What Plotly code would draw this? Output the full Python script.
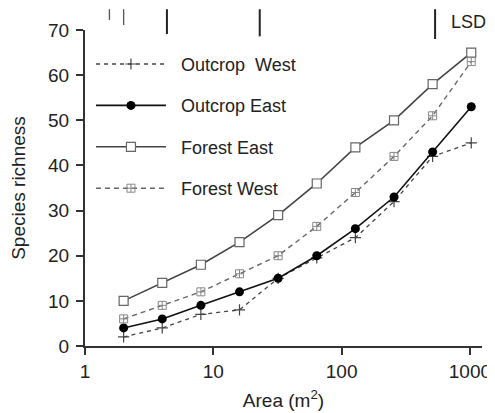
import plotly.graph_objects as go

area = [2, 4, 8, 16, 32, 64, 128, 256, 512, 1024]
outcrop_west = [2, 4, 7, 8, 15, 19.5, 24, 32, 42, 45]
outcrop_east = [4, 6, 9, 12, 15, 20, 26, 33, 43, 53]
forest_east = [10, 14, 18, 23, 29, 36, 44, 50, 58, 65]
forest_west = [6, 9, 12, 16, 20, 26.5, 34, 42, 51, 63]

lsd_x = [1.55, 2.0, 4.35, 23, 535]
lsd_len = [2.4, 3.5, 5.5, 6.0, 6.6]
lsd_top = 74.6

x_ticks = [1, 10, 100, 1000]
y_ticks = [0, 10, 20, 30, 40, 50, 60, 70]
Y_MAX = 70

FONT = "Liberation Sans, Arial, sans-serif"
TXT = "#222222"
PAD = "\u00a0\u00a0"

fig = go.Figure()

fig.add_trace(go.Scatter(
    x=area, y=outcrop_west, name=PAD + "Outcrop  West", legendgroup="a",
    mode="lines+markers",
    line=dict(color="#444444", width=1.3, dash="4px,4px"),
    marker=dict(symbol="cross-thin-open", size=8, color="#444444",
                line=dict(color="#444444", width=1.2)),
))
fig.add_trace(go.Scatter(
    x=area, y=outcrop_east, name=PAD + "Outcrop East", legendgroup="b",
    mode="lines+markers",
    line=dict(color="#111111", width=1.6),
    marker=dict(symbol="circle", size=9, color="#000000"),
))
fig.add_trace(go.Scatter(
    x=area, y=forest_east, name=PAD + "Forest East", legendgroup="c",
    mode="lines+markers",
    line=dict(color="#444444", width=1.6),
    marker=dict(symbol="square", size=9, color="white",
                line=dict(color="#666666", width=1.2)),
))
fig.add_trace(go.Scatter(
    x=area, y=forest_west, name=PAD + "Forest West", legendgroup="d",
    mode="lines+markers",
    line=dict(color="#666666", width=1.4, dash="5px,4px"),
    marker=dict(symbol="square-cross-open", size=8, color="#888888",
                line=dict(color="#888888", width=1)),
))

for i, (xv, ln) in enumerate(zip(lsd_x, lsd_len)):
    fig.add_shape(type="line", xref="x", yref="paper",
                  x0=xv, x1=xv, y0=lsd_top / Y_MAX, y1=(lsd_top - ln) / Y_MAX,
                  line=dict(color="#555555" if i < 2 else "#222222",
                            width=1.3 if i < 2 else 2))

fig.add_annotation(xref="paper", yref="paper", x=1.015, y=71.8 / Y_MAX,
                   text="LSD", showarrow=False, xanchor="right", yanchor="middle",
                   font=dict(family=FONT, size=18, color=TXT))

fig.update_layout(
    width=487, height=405,
    margin=dict(l=77, r=13, t=22, b=66.5, pad=0, autoexpand=False),
    paper_bgcolor="white", plot_bgcolor="white",
    font=dict(family=FONT, size=19, color=TXT),
    showlegend=True,
    legend=dict(x=0.015, y=0.95, xanchor="left", yanchor="top",
                font=dict(family=FONT, size=18, color=TXT),
                itemwidth=70, tracegroupgap=15, bgcolor="rgba(0,0,0,0)",
                traceorder="grouped"),
)
fig.update_xaxes(type="log", range=[0, 3.094], tickvals=x_ticks,
                 ticktext=[str(v) for v in x_ticks], automargin=False,
                 showline=True, linecolor="#333333", linewidth=2,
                 ticks="outside", ticklen=7, tickwidth=2, tickcolor="#333333",
                 showgrid=False, zeroline=False,
                 title=dict(text="Area (m<sup>2</sup>)", standoff=13,
                            font=dict(family=FONT, size=19, color=TXT)))
fig.update_yaxes(range=[0, Y_MAX], tickvals=y_ticks, automargin=False,
                 showline=True, linecolor="#333333", linewidth=2,
                 ticks="outside", ticklen=7, tickwidth=2, tickcolor="#333333",
                 ticklabelstandoff=3,
                 showgrid=False, zeroline=False,
                 title=dict(text="Species richness", standoff=21,
                            font=dict(family=FONT, size=19, color=TXT)))

fig.write_html("out.html")
